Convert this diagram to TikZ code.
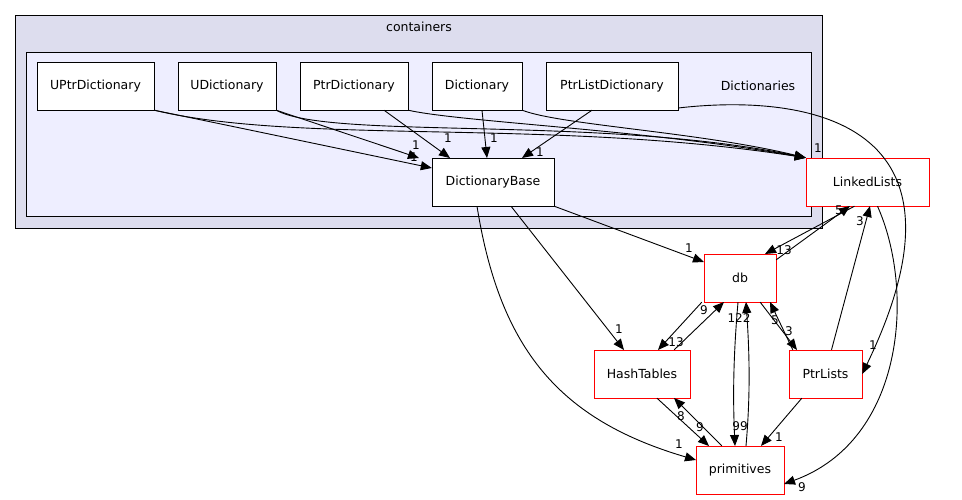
\documentclass[tikz,border=0pt]{standalone}
\usepackage{fontspec}
\setmainfont{DejaVu Sans}
\usetikzlibrary{arrows.meta}
\definecolor{outerfill}{HTML}{DDDDEE}
\definecolor{innerfill}{HTML}{EEEEFF}
\tikzset{font=\fontsize{12.5}{14}\selectfont}
\tikzstyle{dir}=[draw=black,fill=white,inner sep=0pt]
\tikzstyle{ext}=[draw=red,fill=white,inner sep=0pt]
\tikzstyle{dep}=[-{Triangle[length=11pt,width=9pt]},line width=0.9pt]
\tikzstyle{num}=[inner sep=1pt,font=\fontsize{12}{13}\selectfont]

\begin{document}
\begin{tikzpicture}[x=1pt,y=-1pt]
	\useasboundingbox (0,0) rectangle (962,500);
	% clusters
	\draw[fill=outerfill,line width=0.9pt] (15,15) rectangle (822,228);
	\node at (419,27) {containers};
	\draw[fill=innerfill,line width=0.9pt] (26,52) rectangle (811,216);
	\node at (758,86) {Dictionaries};
	% directories
	\node [style=dir,minimum width=117,minimum height=48] (uptrdict) at (95.5,86) {UPtrDictionary};
	\node [style=dir,minimum width=98,minimum height=48] (udict) at (227,86) {UDictionary};
	\node [style=dir,minimum width=108,minimum height=48] (ptrdict) at (354,86) {PtrDictionary};
	\node [style=dir,minimum width=90,minimum height=48] (dict) at (477,86) {Dictionary};
	\node [style=dir,minimum width=132,minimum height=48] (ptrlistdict) at (612,86) {PtrListDictionary};
	\node [style=dir,minimum width=122,minimum height=48] (dictbase) at (493,182) {DictionaryBase};
	\node [style=ext,minimum width=123,minimum height=48] (linked) at (867.5,182) {LinkedLists};
	\node [style=ext,minimum width=72,minimum height=48] (db) at (740,278) {db};
	\node [style=ext,minimum width=96,minimum height=48] (hash) at (642,374) {HashTables};
	\node [style=ext,minimum width=73,minimum height=48] (ptrlists) at (825.5,374) {PtrLists};
	\node [style=ext,minimum width=88,minimum height=48] (prims) at (740,470) {primitives};
	% dependencies
	\draw[dep] (uptrdict.south east) .. controls (250,130) .. (dictbase.west |- 0,168);
	\node[num] at (414,157) {1};
	\draw[dep] (uptrdict.south east) .. controls (300,145) and (550,118) .. (linked.north west);
	\draw[dep] (udict.south east) -- (419,158);
	\node[num] at (416,145) {1};
	\draw[dep] (udict.south east) .. controls (330,140) and (600,115) .. (linked.north west);
	\node[num] at (818,148) {1};
	\draw[dep] (ptrdict.south) ++(30,0) -- (450,158);
	\node[num] at (448,138) {1};
	\draw[dep] (ptrdict.south east) .. controls (460,122) and (650,130) .. (linked.north west);
	\draw[dep] (dict.south) ++(5,0) -- (487,158);
	\node[num] at (494,138) {1};
	\draw[dep] (dict.south east) .. controls (560,125) and (700,132) .. (linked.north west);
	\draw[dep] (ptrlistdict.south) ++(-20,0) -- (522,158);
	\node[num] at (540,152) {1};
	\draw[dep] (ptrlistdict.east) ++(0,22) .. controls (790,95) and (990,110) .. (ptrlists.east);
	\node[num] at (873,345) {1};
	\draw[dep] (dictbase.south east) -- (704,262);
	\node[num] at (689,248) {1};
	\draw[dep] (dictbase.south) ++(18,0) -- (624,350);
	\node[num] at (619,329) {1};
	\draw[dep] (dictbase.south) ++(-16,0) .. controls (500,350) and (560,420) .. (696,460);
	\node[num] at (679,444) {1};
	\draw[dep] (linked.south) ++(-13,0) -- (765,254);
	\node[num] at (784,250) {13};
	\draw[dep] (db.north east) ++(0,6) -- (850,206);
	\node[num] at (839,210) {5};
	\draw[dep] (ptrlists.north) ++(6,0) -- (870,206);
	\node[num] at (860,221) {3};
	\draw[dep] (linked.south) ++(10,0) .. controls (915,290) and (905,440) .. (784,484);
	\node[num] at (802,487) {9};
	\draw[dep] (db.south west) ++(-2,0) -- (658,350);
	\node[num] at (676,342) {13};
	\draw[dep] (hash.north east) ++(-16,0) -- (724,302);
	\node[num] at (704,310) {9};
	\draw[dep] (db.south) ++(-2,0) .. controls (733,360) and (733,400) .. (735,446);
	\node[num] at (740,426) {99};
	\draw[dep] (prims.north) ++(6,0) .. controls (750,400) and (750,360) .. (746,302);
	\node[num] at (739,318) {122};
	\draw[dep] (db.south east) ++(-16,0) -- (797,350);
	\node[num] at (789,331) {3};
	\draw[dep] (ptrlists.north west) ++(4,0) -- (770,302);
	\node[num] at (775,320) {5};
	\draw[dep] (hash.south) ++(15,0) -- (709,446);
	\node[num] at (700,427) {9};
	\draw[dep] (prims.north west) ++(26,0) -- (674,398);
	\node[num] at (681,416) {8};
	\draw[dep] (ptrlists.south west) ++(13,0) -- (761,446);
	\node[num] at (779,437) {1};
\end{tikzpicture}
\end{document}
